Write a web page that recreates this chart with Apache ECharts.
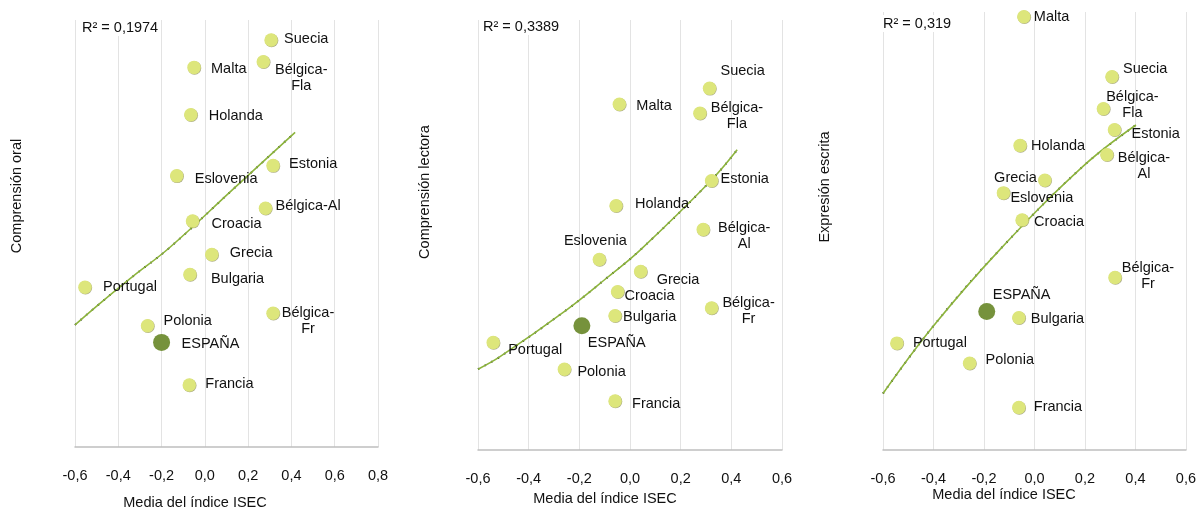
<!DOCTYPE html>
<html><head><meta charset="utf-8">
<script src="https://cdn.jsdelivr.net/npm/echarts@6/dist/echarts.min.js"></script>
<style>html,body{margin:0;padding:0;background:#fff}#c{width:1199px;height:509px}</style>
</head><body><div id="c"></div>
<script>
// Countries (same order in every panel)
const countries = ['Suecia','Bélgica-Fla','Malta','Holanda','Estonia','Eslovenia','Bélgica-Al','Croacia','Grecia','Bulgaria','Portugal','Bélgica-Fr','Polonia','ESPAÑA','Francia'];

// Panel 1: Comprensión oral (y in relative units, axis hidden)
const oralX = [0.306,0.270,-0.050,-0.065,0.315,-0.130,0.280,-0.057,0.032,-0.069,-0.554,0.315,-0.265,-0.200,-0.072];
const oralY = [95.3,90.2,88.9,77.8,65.9,63.5,55.9,52.9,45.1,40.4,37.4,31.3,28.4,24.5,14.5];
const oralTrendX = [-0.6,-0.483,-0.334,-0.165,0.127,0.417];
const oralTrendY = [28.6,33.7,39.9,46.6,60.2,73.7];
const oralR2 = 'R² = 0,1974';

// Panel 2: Comprensión lectora
const lectX = [0.314,0.276,-0.042,-0.055,0.322,-0.121,0.289,-0.049,0.042,-0.059,-0.540,0.322,-0.259,-0.190,-0.059];
const lectY = [84.1,78.3,80.4,56.8,62.6,44.3,51.3,36.8,41.5,31.2,25.0,33.0,18.8,28.9,11.4];
const lectTrendX = [-0.6,-0.513,-0.25,-0.092,0.04,0.322,0.423];
const lectTrendY = [18.8,21.7,32.6,40.0,46.5,62.8,69.8];
const lectR2 = 'R² = 0,3389';

// Panel 3: Expresión escrita
const escX = [0.307,0.273,-0.042,-0.057,0.317,-0.123,0.287,-0.049,0.041,-0.062,-0.545,0.319,-0.257,-0.189,-0.062];
const escY = [85.2,77.9,98.9,69.5,73.1,58.7,67.4,52.5,61.6,30.2,24.4,39.4,19.8,31.6,9.7];
const escTrendX = [-0.6,-0.402,-0.138,0.191,0.402];
const escTrendY = [12.9,28.2,45.7,64.7,74.2];
const escR2 = 'R² = 0,319';

const xTicksMax = [0.8, 0.6, 0.6];
const yNames = ['Comprensión oral','Comprensión lectora','Expresión escrita'];
const xName = 'Media del índice ISEC';

// label placement (style only): [dx, dy, align, multiline]
const labelPlace = [
 {'Suecia':[13,-1,'left'],'Bélgica-Fla':[38,16.5,'center',1],'Malta':[17,2,'left'],'Holanda':[18,1,'left'],'Estonia':[16,-2,'left'],'Eslovenia':[18,3,'left'],'Bélgica-Al':[10,-2,'left'],'Croacia':[19,3,'left'],'Grecia':[18,-1,'left'],'Bulgaria':[21,5,'left'],'Portugal':[18,0,'left'],'Bélgica-Fr':[35,8,'center',1],'Polonia':[16,-5,'left'],'ESPAÑA':[20,2,'left'],'Francia':[16,-1,'left']},
 {'Suecia':[11,-17,'left'],'Malta':[17,2,'left'],'Bélgica-Fla':[37,3,'center',1],'Estonia':[9,-2,'left'],'Holanda':[19,-2,'left'],'Bélgica-Al':[41,7,'center',1],'Eslovenia':[-4,-19,'center'],'Grecia':[16,8,'left'],'Croacia':[7,4,'left'],'Bélgica-Fr':[37,3,'center',1],'Bulgaria':[8,1,'left'],'ESPAÑA':[6,17,'left'],'Portugal':[15,7,'left'],'Polonia':[13,3,'left'],'Francia':[17,3,'left']},
 {'Malta':[10,0,'left'],'Suecia':[11,-8,'left'],'Bélgica-Fla':[29,-3.5,'center',1],'Estonia':[17,4,'left'],'Holanda':[11,0,'left'],'Bélgica-Al':[37,11,'center',1],'Grecia':[-8,-2,'right'],'Eslovenia':[7,5,'left'],'Croacia':[12,2,'left'],'Bélgica-Fr':[33,-1,'center',1],'ESPAÑA':[6,-17,'left'],'Bulgaria':[12,1,'left'],'Portugal':[16,0,'left'],'Polonia':[16,-3,'left'],'Francia':[15,-1,'left']}
];

const panels = [
 {x:oralX,y:oralY,tx:oralTrendX,ty:oralTrendY,r2:oralR2},
 {x:lectX,y:lectY,tx:lectTrendX,ty:lectTrendY,r2:lectR2},
 {x:escX,y:escY,tx:escTrendX,ty:escTrendY,r2:escR2}
];

const FONT = '"Liberation Sans", Arial, sans-serif';
const FS = 14.5;
const TXT = '#111';
const grids = [
 {left:75, right:821, top:20, bottom:62},
 {left:478, right:417, top:20, bottom:59},
 {left:883, right:13, top:12, bottom:59}
];

const xAxes = [], yAxes = [], series = [];
panels.forEach((p, i) => {
  xAxes.push({gridIndex:i, type:'value', min:-0.6, max:xTicksMax[i], interval:0.2,
    axisLine:{show:true, onZero:false, lineStyle:{color:'#bfbfbf', width:1.5}},
    axisTick:{show:false},
    splitLine:{show:true, lineStyle:{color:'#e3e3e3', width:1}},
    axisLabel:{margin:21, color:TXT, fontFamily:FONT, fontSize:FS,
      formatter:v => v.toFixed(1).replace('.', ',')}
  });
  yAxes.push({gridIndex:i, type:'value', min:0, max:100, show:false, splitLine:{show:false}});
  const trend = p.tx.map((v, k) => [v, p.ty[k]]);
  series.push({type:'line', xAxisIndex:i, yAxisIndex:i, data:trend, smooth:0.4, symbol:'none', silent:true,
    lineStyle:{color:'#000', width:1.8, type:[1.5,6]}, z:2});
  series.push({type:'line', xAxisIndex:i, yAxisIndex:i, data:trend, smooth:0.4, symbol:'none', silent:true,
    lineStyle:{color:'#8cb43c', width:1.6}, z:3});
  const mk = (name, k) => {
    const pl = labelPlace[i][name];
    const text = pl[3] ? name.replace('-', '-\n') : name;
    return {name, value:[p.x[k], p.y[k]],
      label:{show:true, position:'inside', offset:[pl[0], pl[1]], align:pl[2], verticalAlign:'middle',
        formatter:text, color:TXT, fontFamily:FONT, fontSize:FS, lineHeight:16,
        textBorderWidth:0, textBorderColor:'transparent'}};
  };
  const others = [], spain = [];
  countries.forEach((c, k) => { (c === 'ESPAÑA' ? spain : others).push(mk(c, k)); });
  series.push({type:'scatter', xAxisIndex:i, yAxisIndex:i, data:others, symbolSize:13.5,
    itemStyle:{color:'#dde67b', opacity:1, shadowColor:'rgba(90,90,20,0.5)', shadowBlur:0.5, shadowOffsetX:0.5, shadowOffsetY:0.5}, z:4});
  series.push({type:'scatter', xAxisIndex:i, yAxisIndex:i, data:spain, symbolSize:17,
    itemStyle:{color:'#76923c', opacity:1}, z:4});
});

const textStyle = {fill:TXT, font:FS + 'px ' + FONT};
const boxed = {backgroundColor:'#fff', padding:[1,2]};
const graphic = [
  {type:'text', left:80, top:19, z:10, style:Object.assign({text:oralR2}, textStyle, boxed)},
  {type:'text', left:481, top:18, z:10, style:Object.assign({text:lectR2}, textStyle, boxed)},
  {type:'text', left:881, top:15, z:10, style:Object.assign({text:escR2}, textStyle, boxed)},
  {type:'text', x:195, y:503, style:Object.assign({text:xName, align:'center', verticalAlign:'middle'}, textStyle)},
  {type:'text', x:605, y:499, style:Object.assign({text:xName, align:'center', verticalAlign:'middle'}, textStyle)},
  {type:'text', x:1004, y:495, style:Object.assign({text:xName, align:'center', verticalAlign:'middle'}, textStyle)},
  {type:'text', x:17, y:196, rotation:Math.PI/2, style:Object.assign({text:yNames[0], align:'center', verticalAlign:'middle'}, textStyle)},
  {type:'text', x:425, y:192, rotation:Math.PI/2, style:Object.assign({text:yNames[1], align:'center', verticalAlign:'middle'}, textStyle)},
  {type:'text', x:825, y:187, rotation:Math.PI/2, style:Object.assign({text:yNames[2], align:'center', verticalAlign:'middle'}, textStyle)}
];

const chart = echarts.init(document.getElementById('c'), null, {renderer:'canvas'});
chart.setOption({animation:false, backgroundColor:'#fff', grid:grids, xAxis:xAxes, yAxis:yAxes, series, graphic});
</script>
</body></html>
